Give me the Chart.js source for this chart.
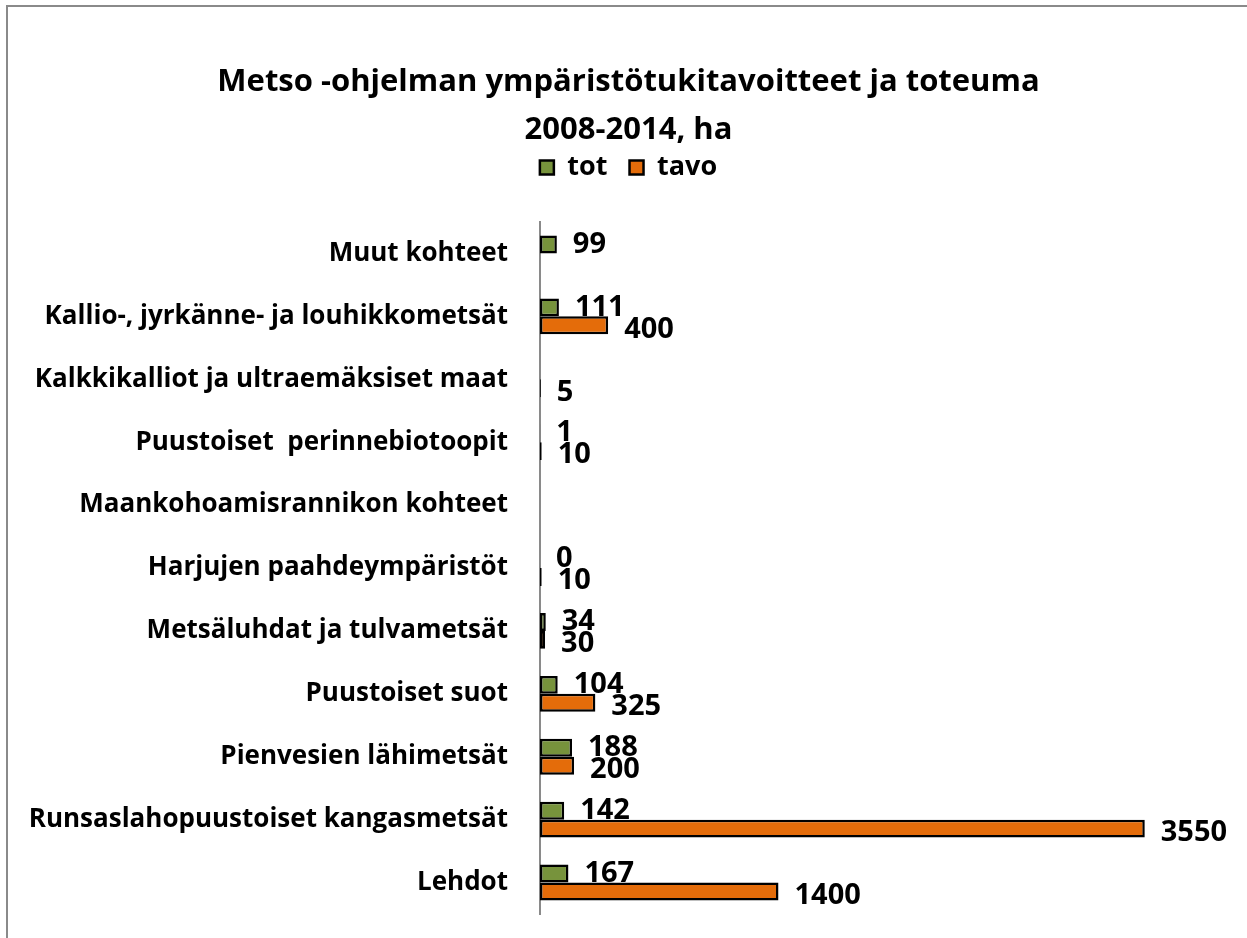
<!DOCTYPE html>
<html>
<head>
<meta charset="utf-8">
<script src="https://cdn.jsdelivr.net/npm/chart.js@4"></script>
<style>
  html, body { margin: 0; padding: 0; background: #fff; }
  #wrap { position: relative; width: 1247px; height: 938px; overflow: hidden; }
  #frame { position: absolute; left: 6px; top: 5px; width: 1300px; height: 1000px;
           border: 2px solid #8a8a8a; box-sizing: border-box; }
  canvas { position: absolute; left: 0; top: 0; }
</style>
</head>
<body>
<div id="wrap">
  <div id="frame"></div>
  <canvas id="chart" width="1247" height="938"></canvas>
</div>
<script>
const categories = [
  "Muut kohteet",
  "Kallio-, jyrkänne- ja louhikkometsät",
  "Kalkkikalliot ja ultraemäksiset maat",
  "Puustoiset  perinnebiotoopit",
  "Maankohoamisrannikon kohteet",
  "Harjujen paahdeympäristöt",
  "Metsäluhdat ja tulvametsät",
  "Puustoiset suot",
  "Pienvesien lähimetsät",
  "Runsaslahopuustoiset kangasmetsät",
  "Lehdot",
];
const tot = [99, 111, null, 1, null, 0, 34, 104, 188, 142, 167];
const tavo = [null, 400, 5, 10, null, 10, 30, 325, 200, 3550, 1400];

const FONT = "'Open Sans', 'Liberation Sans', sans-serif";

// writes the value next to the end of each bar
const valueLabels = {
  id: "valueLabels",
  afterDatasetsDraw(chart) {
    const ctx = chart.ctx;
    ctx.save();
    ctx.font = "bold 29px " + FONT;
    ctx.fillStyle = "#000";
    ctx.textBaseline = "middle";
    chart.data.datasets.forEach((ds, i) => {
      const meta = chart.getDatasetMeta(i);
      meta.data.forEach((bar, j) => {
        const v = ds.data[j];
        if (v === null || v === undefined) return;
        ctx.fillText(String(v), bar.x + 16, bar.y + (i === 0 ? 0 : 4));
      });
    });
    ctx.restore();
  },
};

// leaves some room under the legend
const legendGap = {
  id: "legendGap",
  beforeLayout(chart) {
    const lg = chart.legend;
    if (!lg || lg._gapPatched) return;
    const fit = lg.fit;
    lg.fit = function () {
      fit.call(this);
      this.height += 31;
    };
    lg._gapPatched = true;
  },
};

new Chart(document.getElementById("chart"), {
  type: "bar",
  data: {
    labels: categories,
    datasets: [
      {
        label: "tot",
        data: tot,
        backgroundColor: "#77933C",
        borderColor: "#000",
        borderWidth: 2.5,
        borderSkipped: false,
        categoryPercentage: 0.57,
        barPercentage: 1,
      },
      {
        label: "tavo",
        data: tavo,
        backgroundColor: "#E46C0A",
        borderColor: "#000",
        borderWidth: 2.5,
        borderSkipped: false,
        categoryPercentage: 0.57,
        barPercentage: 1,
      },
    ],
  },
  options: {
    indexAxis: "y",
    responsive: false,
    animation: false,
    layout: { padding: { top: 58, bottom: 24, right: 0, left: 10 } },
    plugins: {
      title: {
        display: true,
        text: ["Metso -ohjelman ympäristötukitavoitteet ja toteuma", "2008-2014, ha"],
        color: "#000",
        font: { family: FONT, size: 31, weight: "bold", lineHeight: 48 / 31 },
        padding: { top: 0, bottom: -22 },
      },
      legend: {
        position: "top",
        labels: {
          color: "#000",
          font: { family: FONT, size: 27, weight: "bold" },
          boxWidth: 14,
          boxHeight: 14,
          padding: 22,
        },
      },
      tooltip: { enabled: false },
    },
    scales: {
      x: { display: false, min: 0, max: 4150 },
      y: {
        grid: { display: false, drawTicks: false },
        border: { display: true, color: "#8a8a8a", width: 2 },
        ticks: {
          color: "#000",
          font: { family: FONT, size: 26, weight: "bold" },
          padding: 32,
          autoSkip: false,
        },
        afterFit(scale) {
          scale.width = 530;
          scale.paddingTop = 0;
          scale.paddingBottom = 0;
        },
      },
    },
  },
  plugins: [valueLabels, legendGap],
});
</script>
</body>
</html>
